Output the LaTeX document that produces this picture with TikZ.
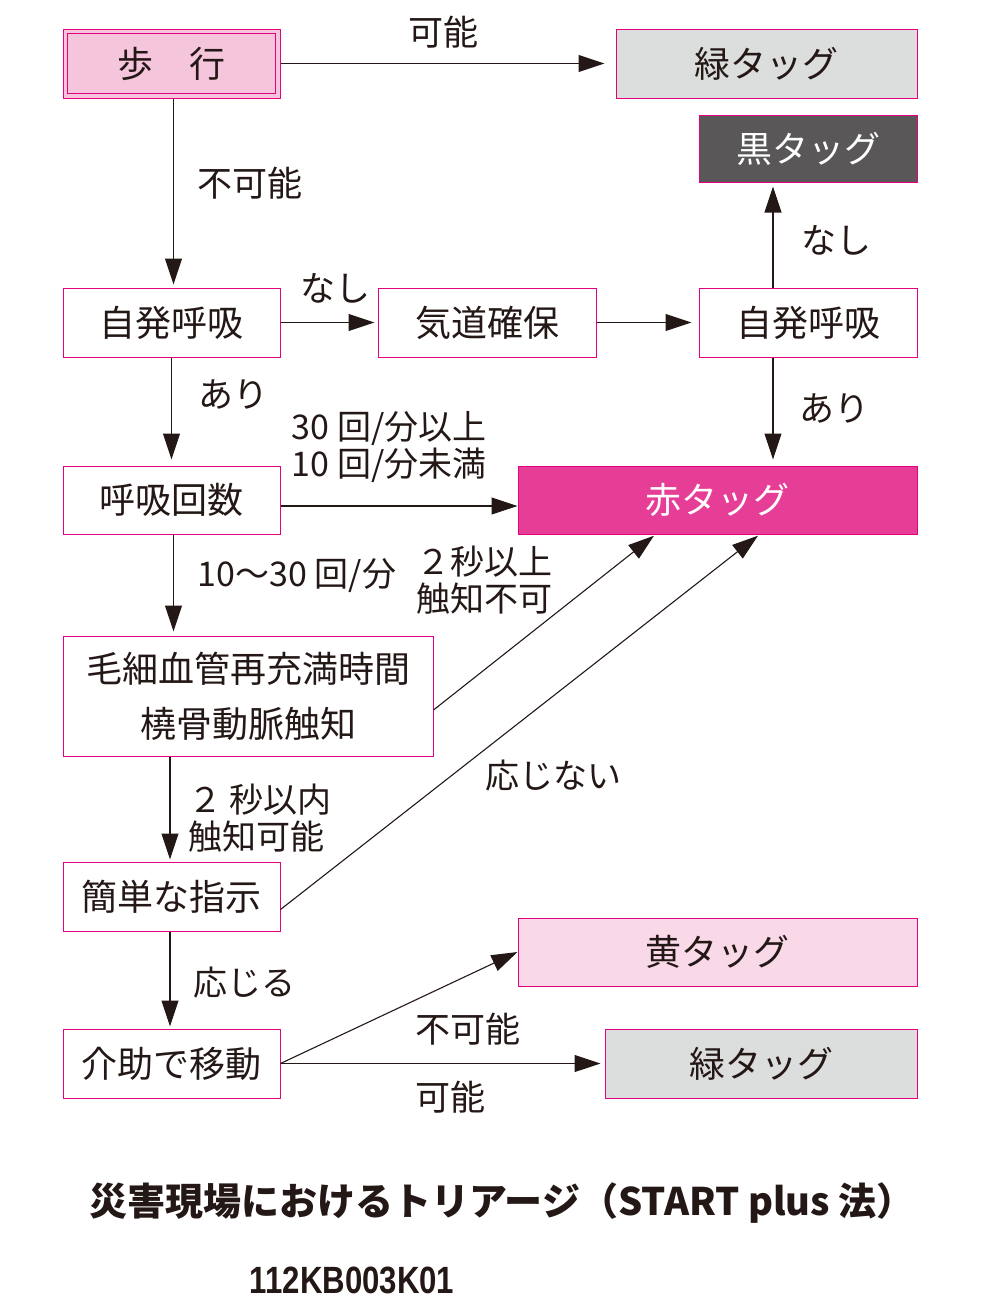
\documentclass[tikz,border=0pt]{standalone}
\usepackage{fontspec}
\setmainfont{Noto Sans CJK JP}
\newfontfamily\codefont{Liberation Sans}
\usepackage{xcolor}
\usetikzlibrary{positioning, arrows.meta}

\definecolor{tagpink}{HTML}{E4007F}
\definecolor{walkfill}{HTML}{F5C5DC}
\definecolor{greenfill}{HTML}{DCDDDD}
\definecolor{blackfill}{HTML}{595757}
\definecolor{redfill}{HTML}{E63E96}
\definecolor{yellowfill}{HTML}{F9D8E8}
\definecolor{inkblack}{HTML}{231815}

\begin{document}
\begin{tikzpicture}[
        x=1pt, y=-1pt,
        box/.style={rectangle, draw=tagpink, line width=1pt, fill=white,
            minimum width=217pt, minimum height=69pt, inner sep=0pt,
            text=inkblack, font=\fontsize{36}{40}\selectfont},
        tag/.style={box, minimum width=399pt},
        arr/.style={draw=inkblack, line width=1.1pt, -{Triangle[length=26pt, width=17pt]}},
        lbl/.style={text=inkblack, inner sep=0pt, font=\fontsize{35}{37}\selectfont},
        sublbl/.style={lbl, font=\fontsize{34}{37}\selectfont},
    ]
    \useasboundingbox (0,0) rectangle (991,1310);

    % boxes
    \node[box, fill=walkfill] (walk) at (171.5,63.5) {歩\hspace{1em}行};
    \draw[tagpink, line width=1pt] ([shift={(5pt,-5pt)}]walk.north west) rectangle ([shift={(-5pt,5pt)}]walk.south east);
    \node[box, fill=greenfill, minimum width=301pt] (greenA) at (766.5,63.5) {緑タッグ};
    \node[box, fill=blackfill, text=white, minimum width=218pt, minimum height=67pt] (black) at (808,148.5) {黒タッグ};
    \node[box] (breathA) at (171.5,322.5) {自発呼吸};
    \node[box, minimum width=218pt] (airway) at (487,322.5) {気道確保};
    \node[box, minimum width=218pt] (breathB) at (808,322.5) {自発呼吸};
    \node[box, minimum height=68pt] (rate) at (171.5,500) {呼吸回数};
    \node[tag, fill=redfill, text=white, minimum height=68pt] (red) at (717.5,500) {赤タッグ};
    \node[box, minimum width=370pt, minimum height=120pt, align=center,
        font=\fontsize{36}{55}\selectfont] (refill) at (248,696) {毛細血管再充満時間\\橈骨動脈触知};
    \node[box] (order) at (171.5,896.5) {簡単な指示};
    \node[tag, fill=yellowfill, minimum height=68pt] (yellow) at (717.5,952) {黄タッグ};
    \node[box] (assist) at (171.5,1063.5) {介助で移動};
    \node[box, fill=greenfill, minimum width=312pt] (greenB) at (761,1063.5) {緑タッグ};

    % connectors
    \draw[arr, shorten >=11pt] (walk.east) -- (greenA.west);
    \draw[arr, shorten >=3pt] ([xshift=2pt]walk.south) -- ([xshift=2pt]breathA.north);
    \draw[arr, shorten >=3pt] (breathA.east) -- (airway.west);
    \draw[arr, shorten >=7pt] (airway.east) -- (breathB.west);
    \draw[arr, shorten >=4pt] ([xshift=-35pt]breathB.north) -- ([xshift=-35pt]black.south);
    \draw[arr, shorten >=6pt] ([xshift=-35pt]breathB.south) -- ([xshift=-35pt]breathB.south |- red.north);
    \draw[arr, shorten >=6pt] (breathA.south) -- (rate.north);
    \draw[arr] ([yshift=-6pt]rate.east) -- ([yshift=-6pt]red.west);
    \draw[arr, shorten >=4pt] ([xshift=2pt]rate.south) -- ([xshift=2pt]rate.south |- refill.north);
    \draw[arr, shorten >=2pt] ([yshift=-14pt]refill.east) -- ([xshift=-62pt]red.south);
    \draw[arr, shorten >=2pt] ([xshift=-1.5pt]order.north |- refill.south) -- ([xshift=-1.5pt]order.north);
    \draw[arr, shorten >=2pt] ([yshift=-13pt]order.east) -- ([xshift=42pt]red.south);
    \draw[arr, shorten >=2pt] ([xshift=-1.5pt]order.south) -- ([xshift=-1.5pt]assist.north);
    \draw[arr] (assist.east) -- (yellow.west);
    \draw[arr, shorten >=4pt] (assist.east) -- (greenB.west);

    % labels
    \node[lbl] (possibleA) at (443,32) {可能};
    \node[lbl] (impossibleA) at (250,183) {不可能};
    \node[lbl] (noneA) at (335,288) {なし};
    \node[lbl] (noneB) at (836,240) {なし};
    \node[lbl] (yesB) at (834,408) {あり};
    \node[lbl] (yesA) at (233,394) {あり};
    \node[sublbl, align=center] (fastslow) at (389,447) {30 回/分以上\\10 回/分未満};
    \node[sublbl] (normal) at (297,576) {10～30 回/分};
    \node[sublbl, align=right] (slowfill) at (484,580) {２秒以上\\触知不可};
    \node[sublbl, align=left] (quickfill) at (260,818) {２ 秒以内\\触知可能};
    \node[sublbl] (noanswer) at (553,776) {応じない};
    \node[sublbl] (answer) at (244,983) {応じる};
    \node[lbl] (impossibleB) at (468,1029) {不可能};
    \node[lbl] (possibleB) at (450,1097) {可能};

    \node[text=inkblack, font=\bfseries\fontsize{38}{40}\selectfont] (title) at (502,1203)
        {災害現場におけるトリアージ（START plus 法）};
    \node[text=inkblack, font=\codefont\bfseries\fontsize{38}{40}\selectfont] (code) at (352,1280)
        {\scalebox{0.82}[1]{112KB003K01}};
\end{tikzpicture}
\end{document}
